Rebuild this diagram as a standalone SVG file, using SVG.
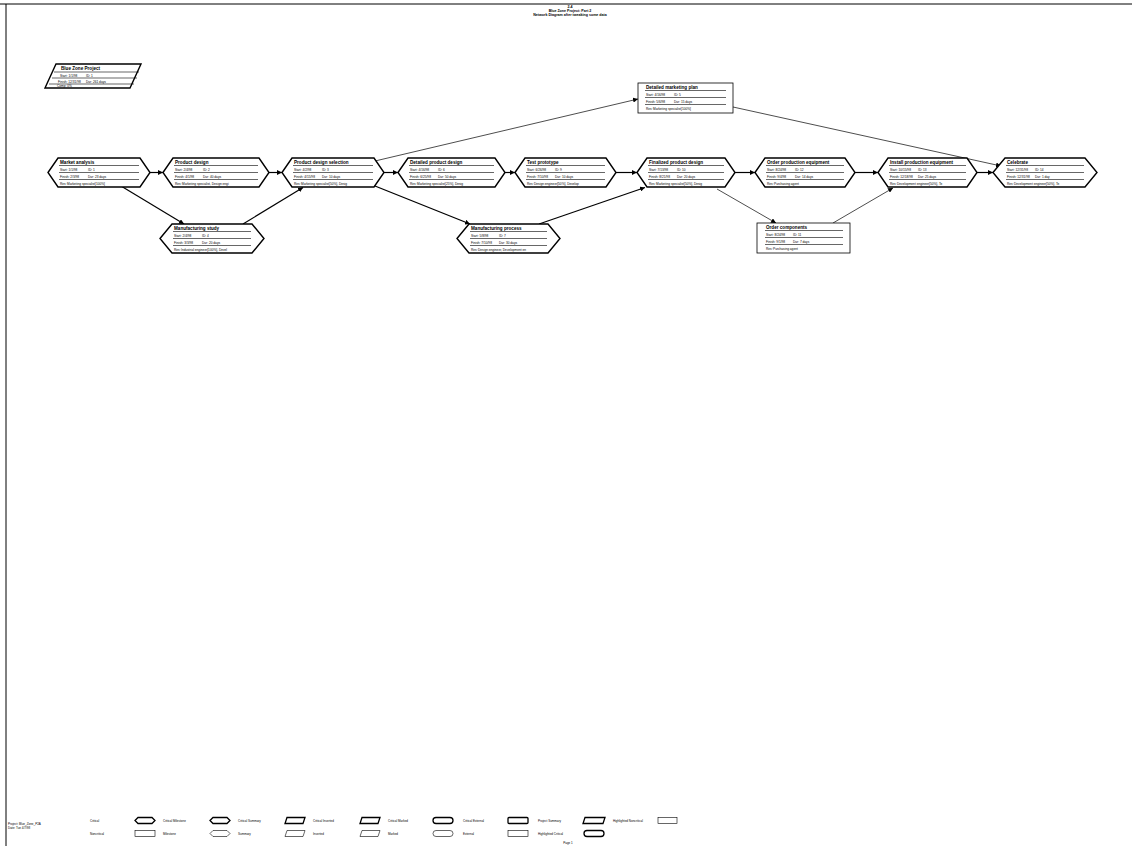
<svg xmlns="http://www.w3.org/2000/svg" width="1132" height="847" viewBox="0 0 1132 847">
<defs>
<style>
.hex{fill:#fff;stroke:#000;stroke-width:1.4}
.box{fill:#fff;stroke:#000;stroke-width:0.8}
.sep{stroke:#000;stroke-width:0.6}
.t{font-family:"Liberation Sans",Arial,sans-serif;font-size:4.6px;font-weight:bold}
.f{font-family:"Liberation Sans",Arial,sans-serif;font-size:3.2px}
.h{font-family:"Liberation Sans",Arial,sans-serif;font-size:3.6px;font-weight:bold;text-anchor:middle}
.lg{font-family:"Liberation Sans",Arial,sans-serif;font-size:3px}
.con{fill:none;stroke:#000;stroke-width:1.2}
.thin{fill:none;stroke:#000;stroke-width:0.7}
.lb{fill:#fff;stroke:#000;stroke-width:1.3}
.ln{fill:#fff;stroke:#000;stroke-width:0.6}
</style>
<marker id="ah" viewBox="0 0 10 10" refX="10" refY="5" markerWidth="5" markerHeight="5" markerUnits="userSpaceOnUse" orient="auto">
<path d="M0,0 L10,5 L0,10 z" fill="#000"/>
</marker>
</defs>
<rect width="1132" height="847" fill="#fff"/>
<line x1="0" y1="4" x2="1132" y2="4" stroke="#000" stroke-width="1"/>
<line x1="6" y1="4" x2="6" y2="846" stroke="#000" stroke-width="1"/>

<g id="title">
<text class="h" x="570" y="8">2-4</text>
<text class="h" x="570" y="11.8">Blue Zone Project: Part 2</text>
<text class="h" x="570" y="15.6">Network Diagram after tweaking some data</text>
</g>

<g id="project-summary">
<polygon class="hex" points="56,64 141,64 130,88 45,88"/>
<text class="t" x="61" y="70">Blue Zone Project</text>
<line class="sep" x1="54" y1="72" x2="139" y2="72"/>
<text class="f" x="60" y="76.5">Start: 1/1/98</text><text class="f" x="86" y="76.5">ID: 1</text>
<line class="sep" x1="52" y1="78" x2="137" y2="78"/>
<text class="f" x="58" y="82.5">Finish: 12/31/98</text><text class="f" x="86" y="82.5">Dur: 261 days</text>
<line class="sep" x1="49" y1="84" x2="134" y2="84"/>
<text class="f" x="57" y="87.3">Comp: 0%</text>
</g>

<g id="connectors">
<line class="con" x1="150" y1="172.5" x2="163" y2="172.5" marker-end="url(#ah)"/>
<line class="con" x1="269" y1="172.5" x2="282" y2="172.5" marker-end="url(#ah)"/>
<line class="con" x1="384" y1="172.5" x2="398" y2="172.5" marker-end="url(#ah)"/>
<line class="con" x1="505" y1="172.5" x2="515" y2="172.5" marker-end="url(#ah)"/>
<line class="con" x1="616" y1="172.5" x2="637" y2="172.5" marker-end="url(#ah)"/>
<line class="con" x1="735" y1="172.5" x2="755" y2="172.5" marker-end="url(#ah)"/>
<line class="con" x1="855" y1="172.5" x2="878" y2="172.5" marker-end="url(#ah)"/>
<line class="con" x1="977" y1="172.5" x2="993" y2="172.5" marker-end="url(#ah)"/>
<line class="con" x1="121" y1="186" x2="184" y2="224" marker-end="url(#ah)"/>
<line class="con" x1="243" y1="224" x2="303" y2="187.5" marker-end="url(#ah)"/>
<line class="con" x1="370" y1="184" x2="470" y2="224" marker-end="url(#ah)"/>
<line class="con" x1="539" y1="224" x2="645" y2="187.5" marker-end="url(#ah)"/>
<line class="thin" x1="375" y1="161" x2="638" y2="99" marker-end="url(#ah)"/>
<line class="thin" x1="733" y1="107" x2="1001" y2="166" marker-end="url(#ah)"/>
<line class="thin" x1="717" y1="189" x2="776" y2="223" marker-end="url(#ah)"/>
<line class="thin" x1="833" y1="223" x2="893" y2="188" marker-end="url(#ah)"/>
</g>

<g id="n1">
<polygon class="hex" points="48,172.5 58,158 140,158 150,172.5 140,187 58,187"/>
<text class="t" x="60" y="164">Market analysis</text>
<line class="sep" x1="59" y1="165.5" x2="139" y2="165.5"/>
<text class="f" x="60" y="170.9">Start: 1/1/98</text><text class="f" x="88" y="170.9">ID: 1</text>
<line class="sep" x1="59" y1="172.5" x2="139" y2="172.5"/>
<text class="f" x="60" y="177.9">Finish: 2/3/98</text><text class="f" x="88" y="177.9">Dur: 23 days</text>
<line class="sep" x1="59" y1="179.5" x2="139" y2="179.5"/>
<text class="f" x="60" y="184.9">Res:</text><text class="f" x="67" y="184.9">Marketing specialist[100%]</text>
</g>

<g id="n2">
<polygon class="hex" points="163,172.5 173,158 259,158 269,172.5 259,187 173,187"/>
<text class="t" x="175" y="164">Product design</text>
<line class="sep" x1="174" y1="165.5" x2="258" y2="165.5"/>
<text class="f" x="175" y="170.9">Start: 2/4/98</text><text class="f" x="203" y="170.9">ID: 2</text>
<line class="sep" x1="174" y1="172.5" x2="258" y2="172.5"/>
<text class="f" x="175" y="177.9">Finish: 4/1/98</text><text class="f" x="203" y="177.9">Dur: 40 days</text>
<line class="sep" x1="174" y1="179.5" x2="258" y2="179.5"/>
<text class="f" x="175" y="184.9">Res:</text><text class="f" x="182" y="184.9">Marketing specialist, Design engi</text>
</g>

<g id="n3">
<polygon class="hex" points="282,172.5 292,158 374,158 384,172.5 374,187 292,187"/>
<text class="t" x="294" y="164">Product design selection</text>
<line class="sep" x1="293" y1="165.5" x2="373" y2="165.5"/>
<text class="f" x="294" y="170.9">Start: 4/2/98</text><text class="f" x="322" y="170.9">ID: 3</text>
<line class="sep" x1="293" y1="172.5" x2="373" y2="172.5"/>
<text class="f" x="294" y="177.9">Finish: 4/15/98</text><text class="f" x="322" y="177.9">Dur: 10 days</text>
<line class="sep" x1="293" y1="179.5" x2="373" y2="179.5"/>
<text class="f" x="294" y="184.9">Res:</text><text class="f" x="301" y="184.9">Marketing specialist[50%], Desig</text>
</g>

<g id="n4">
<polygon class="hex" points="398,172.5 408,158 495,158 505,172.5 495,187 408,187"/>
<text class="t" x="410" y="164">Detailed product design</text>
<line class="sep" x1="409" y1="165.5" x2="494" y2="165.5"/>
<text class="f" x="410" y="170.9">Start: 4/16/98</text><text class="f" x="438" y="170.9">ID: 6</text>
<line class="sep" x1="409" y1="172.5" x2="494" y2="172.5"/>
<text class="f" x="410" y="177.9">Finish: 6/25/98</text><text class="f" x="438" y="177.9">Dur: 50 days</text>
<line class="sep" x1="409" y1="179.5" x2="494" y2="179.5"/>
<text class="f" x="410" y="184.9">Res:</text><text class="f" x="417" y="184.9">Marketing specialist[25%], Desig</text>
</g>

<g id="n5">
<polygon class="hex" points="515,172.5 525,158 606,158 616,172.5 606,187 525,187"/>
<text class="t" x="527" y="164">Test prototype</text>
<line class="sep" x1="526" y1="165.5" x2="605" y2="165.5"/>
<text class="f" x="527" y="170.9">Start: 6/26/98</text><text class="f" x="555" y="170.9">ID: 9</text>
<line class="sep" x1="526" y1="172.5" x2="605" y2="172.5"/>
<text class="f" x="527" y="177.9">Finish: 7/10/98</text><text class="f" x="555" y="177.9">Dur: 10 days</text>
<line class="sep" x1="526" y1="179.5" x2="605" y2="179.5"/>
<text class="f" x="527" y="184.9">Res:</text><text class="f" x="534" y="184.9">Design engineer[50%], Develop</text>
</g>

<g id="n6">
<polygon class="hex" points="637,172.5 647,158 725,158 735,172.5 725,187 647,187"/>
<text class="t" x="649" y="164">Finalized product design</text>
<line class="sep" x1="648" y1="165.5" x2="724" y2="165.5"/>
<text class="f" x="649" y="170.9">Start: 7/13/98</text><text class="f" x="677" y="170.9">ID: 10</text>
<line class="sep" x1="648" y1="172.5" x2="724" y2="172.5"/>
<text class="f" x="649" y="177.9">Finish: 8/21/98</text><text class="f" x="677" y="177.9">Dur: 20 days</text>
<line class="sep" x1="648" y1="179.5" x2="724" y2="179.5"/>
<text class="f" x="649" y="184.9">Res:</text><text class="f" x="656" y="184.9">Marketing specialist[50%], Desig</text>
</g>

<g id="n7">
<polygon class="hex" points="755,172.5 765,158 845,158 855,172.5 845,187 765,187"/>
<text class="t" x="767" y="164">Order production equipment</text>
<line class="sep" x1="766" y1="165.5" x2="844" y2="165.5"/>
<text class="f" x="767" y="170.9">Start: 8/24/98</text><text class="f" x="795" y="170.9">ID: 12</text>
<line class="sep" x1="766" y1="172.5" x2="844" y2="172.5"/>
<text class="f" x="767" y="177.9">Finish: 9/4/98</text><text class="f" x="795" y="177.9">Dur: 14 days</text>
<line class="sep" x1="766" y1="179.5" x2="844" y2="179.5"/>
<text class="f" x="767" y="184.9">Res:</text><text class="f" x="774" y="184.9">Purchasing agent</text>
</g>

<g id="n8">
<polygon class="hex" points="878,172.5 888,158 967,158 977,172.5 967,187 888,187"/>
<text class="t" x="890" y="164">Install production equipment</text>
<line class="sep" x1="889" y1="165.5" x2="966" y2="165.5"/>
<text class="f" x="890" y="170.9">Start: 10/15/98</text><text class="f" x="918" y="170.9">ID: 13</text>
<line class="sep" x1="889" y1="172.5" x2="966" y2="172.5"/>
<text class="f" x="890" y="177.9">Finish: 12/18/98</text><text class="f" x="918" y="177.9">Dur: 25 days</text>
<line class="sep" x1="889" y1="179.5" x2="966" y2="179.5"/>
<text class="f" x="890" y="184.9">Res:</text><text class="f" x="897" y="184.9">Development engineer[50%], Te</text>
</g>

<g id="n9">
<polygon class="hex" points="993,172.5 1005,158 1085,158 1097,172.5 1085,187 1005,187"/>
<text class="t" x="1007" y="164">Celebrate</text>
<line class="sep" x1="1006" y1="165.5" x2="1084" y2="165.5"/>
<text class="f" x="1007" y="170.9">Start: 12/31/98</text><text class="f" x="1035" y="170.9">ID: 14</text>
<line class="sep" x1="1006" y1="172.5" x2="1084" y2="172.5"/>
<text class="f" x="1007" y="177.9">Finish: 12/31/98</text><text class="f" x="1035" y="177.9">Dur: 1 day</text>
<line class="sep" x1="1006" y1="179.5" x2="1084" y2="179.5"/>
<text class="f" x="1007" y="184.9">Res:</text><text class="f" x="1014" y="184.9">Development engineer[50%], Te</text>
</g>

<g id="n-mfg-study">
<polygon class="hex" points="160,238.5 172,224 252,224 264,238.5 252,253 172,253"/>
<text class="t" x="174" y="230">Manufacturing study</text>
<line class="sep" x1="173" y1="231.5" x2="251" y2="231.5"/>
<text class="f" x="174" y="236.9">Start: 2/4/98</text><text class="f" x="202" y="236.9">ID: 4</text>
<line class="sep" x1="173" y1="238.5" x2="251" y2="238.5"/>
<text class="f" x="174" y="243.9">Finish: 3/3/98</text><text class="f" x="202" y="243.9">Dur: 20 days</text>
<line class="sep" x1="173" y1="245.5" x2="251" y2="245.5"/>
<text class="f" x="174" y="250.9">Res:</text><text class="f" x="181" y="250.9">Industrial engineer[100%], Devel</text>
</g>

<g id="n-mfg-process">
<polygon class="hex" points="457,238.5 469,224 548,224 560,238.5 548,253 469,253"/>
<text class="t" x="471" y="230">Manufacturing process</text>
<line class="sep" x1="470" y1="231.5" x2="547" y2="231.5"/>
<text class="f" x="471" y="236.9">Start: 5/8/98</text><text class="f" x="499" y="236.9">ID: 7</text>
<line class="sep" x1="470" y1="238.5" x2="547" y2="238.5"/>
<text class="f" x="471" y="243.9">Finish: 7/10/98</text><text class="f" x="499" y="243.9">Dur: 30 days</text>
<line class="sep" x1="470" y1="245.5" x2="547" y2="245.5"/>
<text class="f" x="471" y="250.9">Res:</text><text class="f" x="478" y="250.9">Design engineer, Development en</text>
</g>

<g id="n-mkt-plan">
<rect class="box" x="638" y="83" width="95" height="30"/>
<text class="t" x="646" y="89">Detailed marketing plan</text>
<line class="sep" x1="645" y1="90.5" x2="726" y2="90.5"/>
<text class="f" x="646" y="95.9">Start: 4/16/98</text><text class="f" x="674" y="95.9">ID: 5</text>
<line class="sep" x1="645" y1="97.5" x2="726" y2="97.5"/>
<text class="f" x="646" y="102.9">Finish: 5/6/98</text><text class="f" x="674" y="102.9">Dur: 15 days</text>
<line class="sep" x1="645" y1="104.5" x2="726" y2="104.5"/>
<text class="f" x="646" y="109.9">Res:</text><text class="f" x="653" y="109.9">Marketing specialist[100%]</text>
</g>

<g id="n-order-comp">
<rect class="box" x="757" y="223" width="93" height="30"/>
<text class="t" x="766" y="229">Order components</text>
<line class="sep" x1="765" y1="230.5" x2="843" y2="230.5"/>
<text class="f" x="766" y="235.9">Start: 8/24/98</text><text class="f" x="793" y="235.9">ID: 11</text>
<line class="sep" x1="765" y1="237.5" x2="843" y2="237.5"/>
<text class="f" x="766" y="242.9">Finish: 9/1/98</text><text class="f" x="793" y="242.9">Dur: 7 days</text>
<line class="sep" x1="765" y1="244.5" x2="843" y2="244.5"/>
<text class="f" x="766" y="249.9">Res:</text><text class="f" x="773" y="249.9">Purchasing agent</text>
</g>

<g id="legend">
<text class="lg" x="8" y="825">Project: Blue_Zone_P2A</text>
<text class="lg" x="8" y="829">Date: Tue 4/7/98</text>
<text class="lg" x="90" y="821.5">Critical</text>
<text class="lg" x="90" y="834.5">Noncritical</text>
<text class="lg" x="163" y="821.5">Critical Milestone</text>
<text class="lg" x="163" y="834.5">Milestone</text>
<text class="lg" x="238" y="821.5">Critical Summary</text>
<text class="lg" x="238" y="834.5">Summary</text>
<text class="lg" x="313" y="821.5">Critical Inserted</text>
<text class="lg" x="313" y="834.5">Inserted</text>
<text class="lg" x="388" y="821.5">Critical Marked</text>
<text class="lg" x="388" y="834.5">Marked</text>
<text class="lg" x="463" y="821.5">Critical External</text>
<text class="lg" x="463" y="834.5">External</text>
<text class="lg" x="538" y="821.5">Project Summary</text>
<text class="lg" x="538" y="834.5">Highlighted Critical</text>
<text class="lg" x="613" y="821.5">Highlighted Noncritical</text>
<path class="lb" d="M135,820.5 L138,817.5 H152 L155,820.5 L152,823.5 H138 Z"/>
<rect class="ln" x="135" y="830.5" width="20" height="6"/>
<path class="lb" d="M210,820.5 L213,817.5 H227 L230,820.5 L227,823.5 H213 Z"/>
<path class="ln" d="M210,833.5 L213,830.5 H227 L230,833.5 L227,836.5 H213 Z"/>
<polygon class="lb" points="287,817.5 305,817.5 303,823.5 285,823.5"/>
<polygon class="ln" points="287,830.5 305,830.5 303,836.5 285,836.5"/>
<polygon class="lb" points="362,817.5 380,817.5 378,823.5 360,823.5"/>
<polygon class="ln" points="362,830.5 380,830.5 378,836.5 360,836.5"/>
<rect class="lb" x="433" y="817.5" width="20" height="6" rx="3"/>
<rect class="ln" x="433" y="830.5" width="20" height="6" rx="3"/>
<rect class="lb" x="508" y="817.5" width="20" height="6" rx="1"/>
<rect class="ln" x="508" y="830.5" width="20" height="6"/>
<polygon class="lb" points="585,817.5 605,817.5 603,823.5 583,823.5"/>
<rect class="lb" x="584" y="830.5" width="20" height="6" rx="3"/>
<rect class="ln" x="658" y="817.5" width="19" height="6"/>
<text class="lg" x="568" y="844" text-anchor="middle">Page 1</text>
</g>
</svg>
